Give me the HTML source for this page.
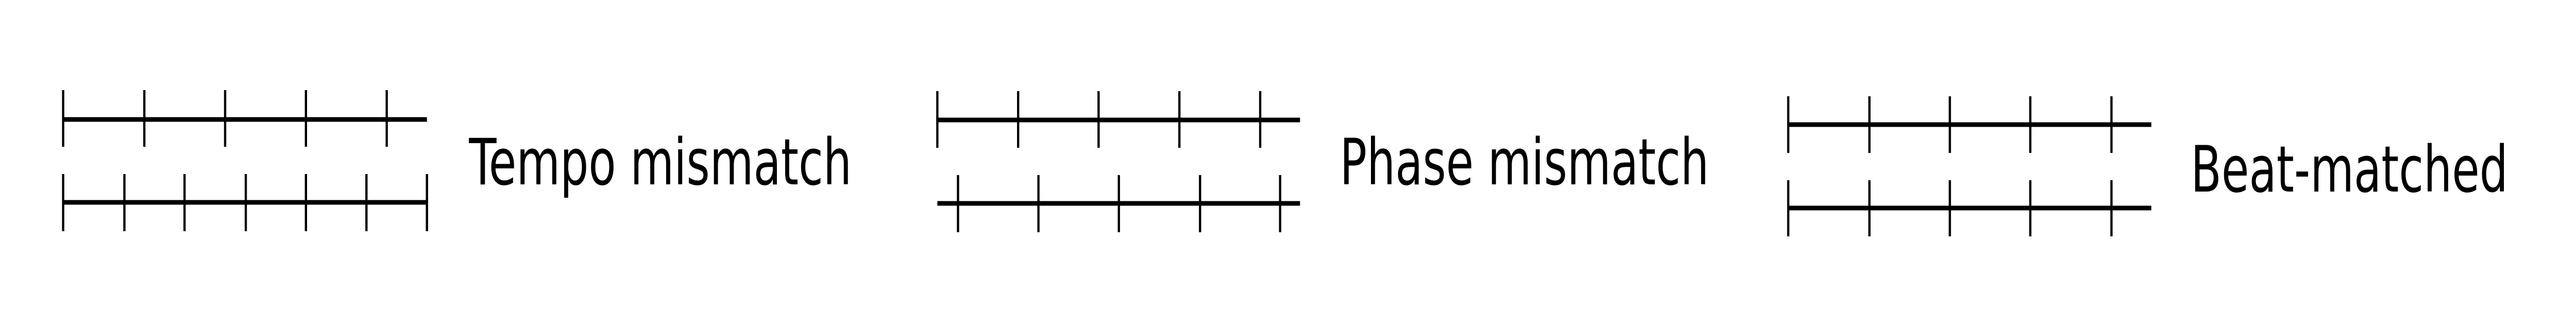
<!DOCTYPE html>
<html><head><meta charset="utf-8"><style>html,body{margin:0;padding:0;background:#fff;width:100%;height:100%;overflow:hidden;}svg{display:block;width:100vw;height:100vh}</style></head>
<body>
<svg viewBox="0 0 6854 637" preserveAspectRatio="none" xmlns="http://www.w3.org/2000/svg">
<g stroke="#000" fill="none">
<line x1="168" y1="232" x2="1136" y2="232" stroke-width="9"/>
<g stroke-width="6">
<line x1="168" y1="175" x2="168" y2="285"/><line x1="384" y1="175" x2="384" y2="285"/><line x1="599" y1="175" x2="599" y2="285"/><line x1="814" y1="175" x2="814" y2="285"/><line x1="1029" y1="175" x2="1029" y2="285"/>
</g>
<line x1="168" y1="393" x2="1136" y2="393" stroke-width="9"/>
<g stroke-width="6">
<line x1="168" y1="338" x2="168" y2="449"/><line x1="331" y1="338" x2="331" y2="449"/><line x1="491" y1="338" x2="491" y2="449"/><line x1="654" y1="338" x2="654" y2="449"/><line x1="814" y1="338" x2="814" y2="449"/><line x1="975" y1="338" x2="975" y2="449"/><line x1="1136" y1="338" x2="1136" y2="449"/>
</g>
<line x1="2494" y1="233" x2="3459" y2="233" stroke-width="9"/>
<g stroke-width="6">
<line x1="2494" y1="177" x2="2494" y2="287"/><line x1="2709" y1="177" x2="2709" y2="287"/><line x1="2923" y1="177" x2="2923" y2="287"/><line x1="3138" y1="177" x2="3138" y2="287"/><line x1="3353" y1="177" x2="3353" y2="287"/>
</g>
<line x1="2494" y1="395" x2="3459" y2="395" stroke-width="9"/>
<g stroke-width="6">
<line x1="2549" y1="340" x2="2549" y2="451"/><line x1="2763" y1="340" x2="2763" y2="451"/><line x1="2977" y1="340" x2="2977" y2="451"/><line x1="3193" y1="340" x2="3193" y2="451"/><line x1="3406" y1="340" x2="3406" y2="451"/>
</g>
<line x1="4758" y1="242" x2="5724" y2="242" stroke-width="9"/>
<g stroke-width="6">
<line x1="4758" y1="187" x2="4758" y2="297"/><line x1="4974" y1="187" x2="4974" y2="297"/><line x1="5188" y1="187" x2="5188" y2="297"/><line x1="5402" y1="187" x2="5402" y2="297"/><line x1="5618" y1="187" x2="5618" y2="297"/>
</g>
<line x1="4758" y1="404" x2="5724" y2="404" stroke-width="9"/>
<g stroke-width="6">
<line x1="4758" y1="350" x2="4758" y2="459"/><line x1="4974" y1="350" x2="4974" y2="459"/><line x1="5188" y1="350" x2="5188" y2="459"/><line x1="5402" y1="350" x2="5402" y2="459"/><line x1="5618" y1="350" x2="5618" y2="459"/>
</g>
</g>
<g font-family="DejaVu Sans, Liberation Sans, sans-serif" font-size="124" fill="#000">
<text x="1248" y="358" textLength="1018" lengthAdjust="spacingAndGlyphs">Tempo mismatch</text>
<text x="3565" y="358" textLength="982" lengthAdjust="spacingAndGlyphs">Phase mismatch</text>
<text x="5829" y="372" textLength="844" lengthAdjust="spacingAndGlyphs">Beat-matched</text>
</g>
</svg>
</body></html>
